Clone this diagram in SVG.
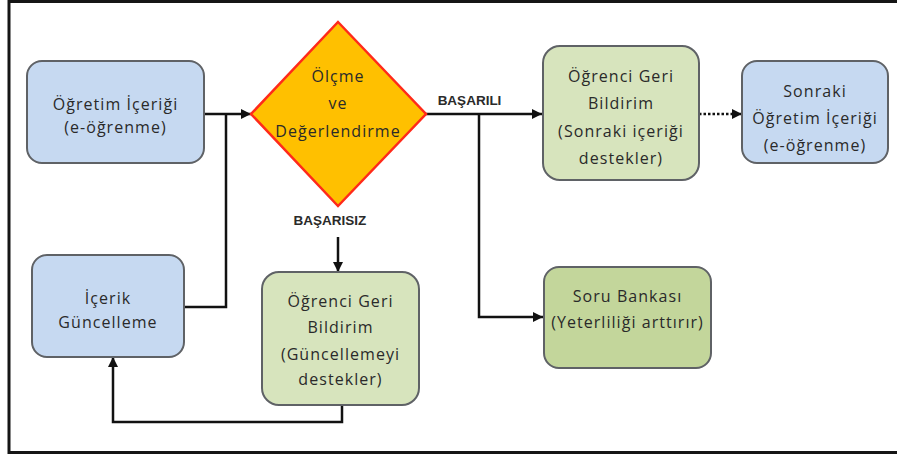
<svg xmlns="http://www.w3.org/2000/svg" width="897" height="454" viewBox="0 0 897 454">
<style>
.t{font-family:"Open Sans","Liberation Sans",sans-serif;font-size:16px;letter-spacing:1.05px;fill:#2a2a2a;text-anchor:middle}
.lbl{font-family:"Liberation Sans",Arial,sans-serif;font-size:13.5px;font-weight:bold;fill:#2a2a2a;text-anchor:middle}
.blue{fill:#c6d9f1;stroke:#5f6266;stroke-width:2}
.green{fill:#d7e4bd;stroke:#5f6266;stroke-width:2}
.green2{fill:#c3d69b;stroke:#5f6266;stroke-width:2}
.c{fill:none;stroke:#111;stroke-width:2.5}
</style>
<defs>
<marker id="ah" markerUnits="userSpaceOnUse" markerWidth="10" markerHeight="10" refX="10" refY="5" orient="auto" viewBox="0 0 10 10">
<path d="M0,0 L10,5 L0,10 z" fill="#111"/>
</marker>
</defs>
<rect width="897" height="454" fill="#fff"/>
<path d="M9,0 V452.5 H897 M9,1.5 H897" fill="none" stroke="#151515" stroke-width="3"/>

<g id="connectors">
<path class="c" d="M204,114 H251" marker-end="url(#ah)"/>
<path class="c" d="M184,307 H226 V114"/>
<path class="c" d="M426,114 H542" marker-end="url(#ah)"/>
<path class="c" d="M479,114 V317 H543" marker-end="url(#ah)"/>
<path class="c" d="M699,114 H742" stroke-dasharray="2.5 2" marker-end="url(#ah)"/>
<path class="c" d="M338,237 V272" marker-end="url(#ah)"/>
<path class="c" d="M342,405 V422 H113 V357" marker-end="url(#ah)"/>
<text class="lbl" x="469.5" y="105">BAŞARILI</text>
<text class="lbl" x="330" y="225">BAŞARISIZ</text>
</g>

<g id="ogretim">
<rect class="blue" x="27" y="61" width="177" height="102" rx="15"/>
<text class="t" x="115.5" y="110">Öğretim İçeriği</text>
<text class="t" x="115.5" y="133">(e-öğrenme)</text>
</g>

<g id="olcme">
<polygon points="338,22 426,114 338,206 251,114" fill="#ffc000" stroke="#ff2a1a" stroke-width="2.5"/>
<text class="t" x="338" y="82">Ölçme</text>
<text class="t" x="338" y="109">ve</text>
<text class="t" x="338" y="137">Değerlendirme</text>
</g>

<g id="guncelleme">
<rect class="blue" x="32" y="255" width="152" height="102" rx="15"/>
<text class="t" x="108" y="304">İçerik</text>
<text class="t" x="108" y="328">Güncelleme</text>
</g>

<g id="geri1">
<rect class="green" x="262" y="272" width="157" height="133" rx="17"/>
<text class="t" x="340.5" y="307">Öğrenci Geri</text>
<text class="t" x="340.5" y="333">Bildirim</text>
<text class="t" x="340.5" y="360">(Güncellemeyi</text>
<text class="t" x="340.5" y="385">destekler)</text>
</g>

<g id="geri2">
<rect class="green" x="543" y="46" width="156" height="134" rx="17"/>
<text class="t" x="621" y="82">Öğrenci Geri</text>
<text class="t" x="621" y="109">Bildirim</text>
<text class="t" x="621" y="137">(Sonraki içeriği</text>
<text class="t" x="621" y="164">destekler)</text>
</g>

<g id="sonraki">
<rect class="blue" x="742" y="61" width="146" height="102" rx="15"/>
<text class="t" x="815" y="97">Sonraki</text>
<text class="t" x="815" y="124">Öğretim İçeriği</text>
<text class="t" x="815" y="151">(e-öğrenme)</text>
</g>

<g id="soru">
<rect class="green2" x="544" y="267" width="167" height="101" rx="15"/>
<text class="t" x="627.5" y="302">Soru Bankası</text>
<text class="t" x="627.5" y="328">(Yeterliliği arttırır)</text>
</g>
</svg>
